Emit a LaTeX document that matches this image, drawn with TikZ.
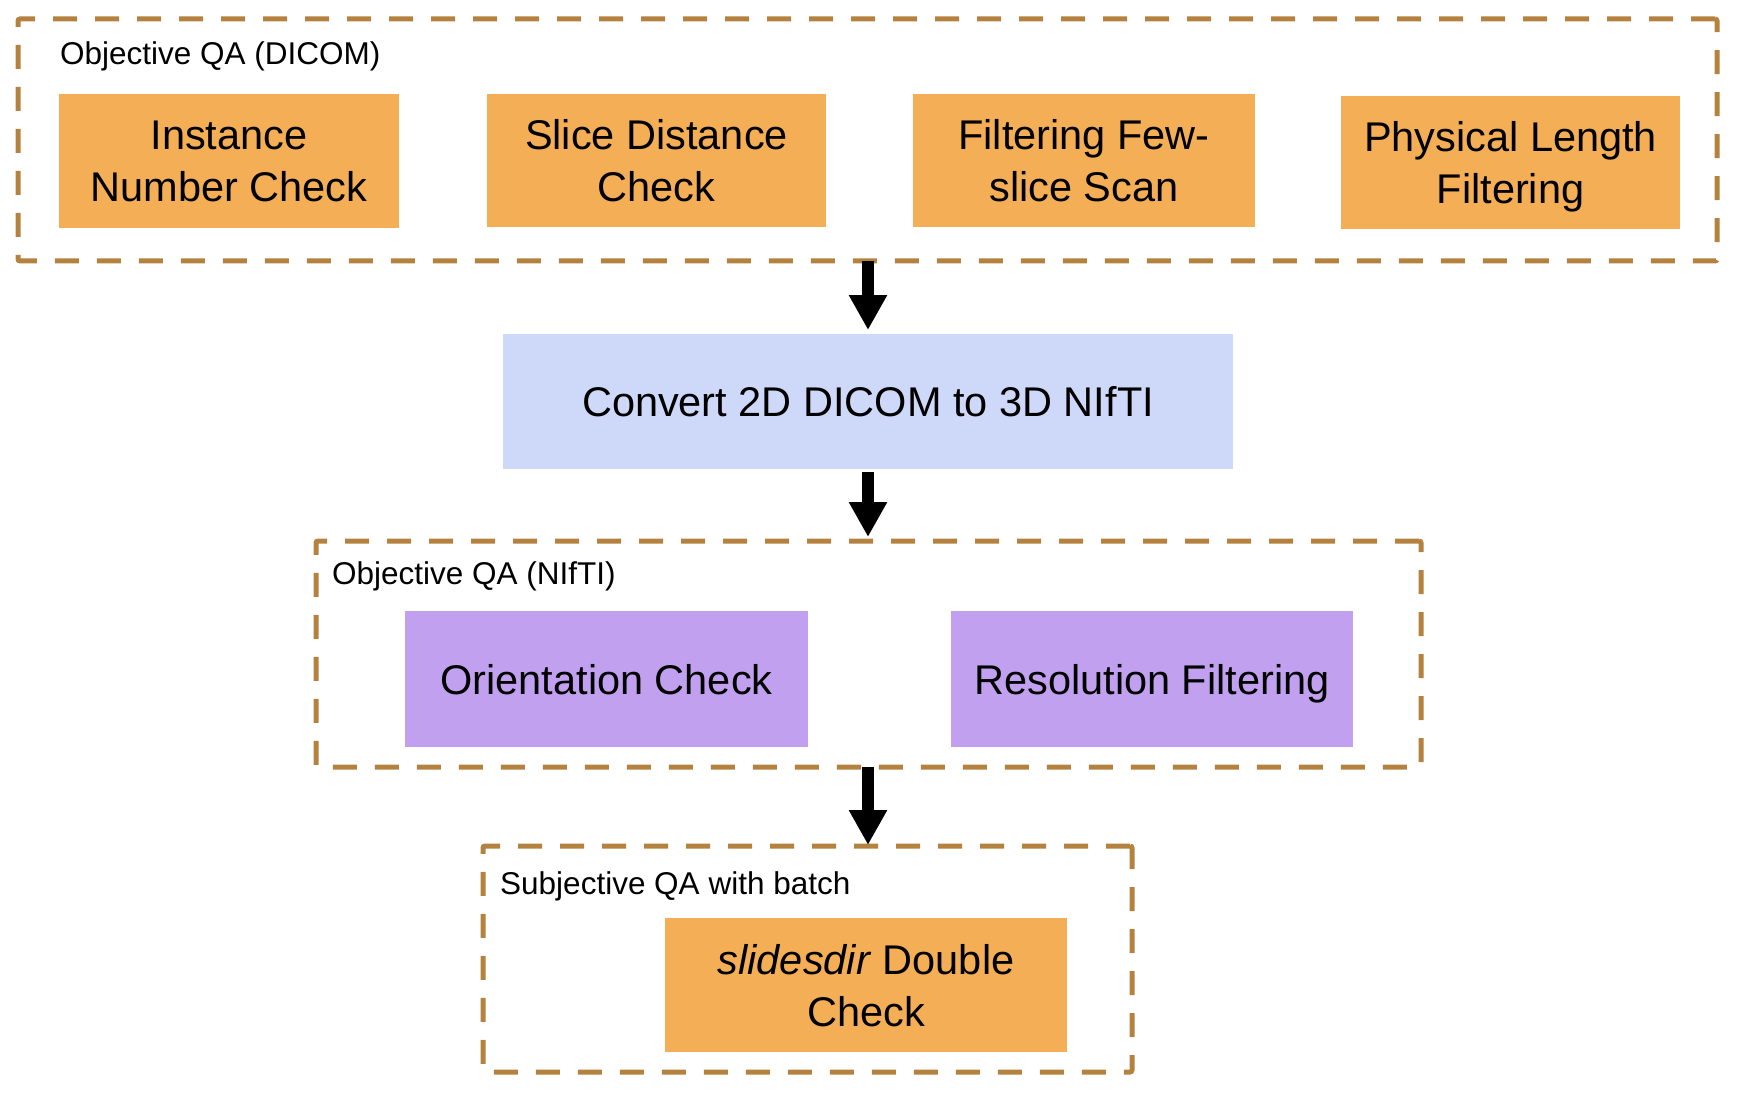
\documentclass[tikz,border=0pt]{standalone}
\usepackage{fontspec}
\setmainfont{Liberation Sans}
\usetikzlibrary{arrows.meta}
\definecolor{qaorange}{HTML}{F3AE56}
\definecolor{qapurple}{HTML}{C2A0F0}
\definecolor{qablue}{HTML}{CED8F8}
\definecolor{qabrown}{HTML}{B4823E}
\begin{document}
\begin{tikzpicture}[x=1pt,y=-1pt,
  groupbox/.style={draw=qabrown, line width=5pt, dash pattern=on 24pt off 18pt,
    rounded corners=2pt, inner sep=0pt, outer sep=0pt},
  stepbox/.style={fill=qaorange, draw=none, align=center, inner sep=0pt, outer sep=0pt,
    text depth=0pt, font=\fontsize{41.5}{52}\selectfont},
  grouplabel/.style={anchor=base west, inner sep=0pt, font=\fontsize{31.5}{38}\selectfont},
  flowarrow/.style={line width=12pt, -{Triangle[width=36pt,length=35pt]}}]
\useasboundingbox (0,0) rectangle (1746,1094);

% group containers
\node[groupbox, minimum width=1699pt, minimum height=242pt] (box1) at (867.5,140) {};
\node[groupbox, minimum width=1105pt, minimum height=226pt] (box2) at (868.5,654) {};
\node[groupbox, minimum width=649pt, minimum height=226pt] (box3) at (807.5,959) {};

% group labels
\node[grouplabel] (lab1) at (60,65) {Objective QA (DICOM)};
\node[grouplabel] (lab2) at (332,584) {Objective QA (NIfTI)};
\node[grouplabel] (lab3) at (500,894) {Subjective QA with batch};

% row 1
\node[stepbox, minimum width=340pt, minimum height=134pt] (inst) at (229,161) {Instance\\Number Check};
\node[stepbox, minimum width=339pt, minimum height=133pt] (slice) at (656.5,160.5) {Slice Distance\\Check};
\node[stepbox, minimum width=342pt, minimum height=133pt] (few) at (1084,160.5) {Filtering Few-\\slice Scan};
\node[stepbox, minimum width=339pt, minimum height=133pt] (phys) at (1510.5,162.5) {Physical Length\\Filtering};

% convert
\node[stepbox, fill=qablue, minimum width=730pt, minimum height=135pt] (conv) at (868,401.5) {Convert 2D DICOM to 3D NIfTI};

% row NIfTI
\node[stepbox, fill=qapurple, minimum width=403pt, minimum height=136pt] (orient) at (606.5,679) {Orientation Check};
\node[stepbox, fill=qapurple, minimum width=402pt, minimum height=136pt] (resol) at (1152,679) {Resolution Filtering};

% subjective
\node[stepbox, minimum width=402pt, minimum height=134pt] (slides) at (866,985) {\textit{slidesdir} Double\\Check};

% arrows
\draw[flowarrow, shorten >=4pt] (box1.south -| conv.north) -- (conv.north);
\draw[flowarrow, shorten <=3pt, shorten >=4pt] (conv.south) -- (box2.north -| conv.south);
\draw[flowarrow, shorten >=1pt] (box2.south -| conv.south) -- (box3.north -| conv.south);
\end{tikzpicture}
\end{document}
